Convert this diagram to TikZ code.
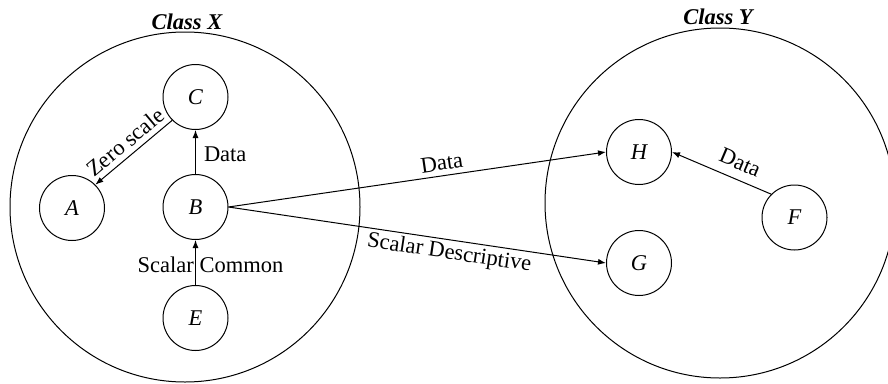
\documentclass[tikz,border=0pt]{standalone}
\usepackage{fontspec}
\setmainfont{Liberation Serif}
\usetikzlibrary{arrows.meta}
\begin{document}
\begin{tikzpicture}[x=1pt,y=-1pt,
  every node/.style={font=\fontsize{22.5}{27}\selectfont},
  cls/.style={circle,draw,line width=1pt,minimum size=350pt,inner sep=0pt},
  vert/.style={circle,draw,line width=1pt,minimum size=65pt,inner sep=0pt,font=\fontsize{22.5}{27}\selectfont\itshape},
  conn/.style={line width=1pt,-{Latex[length=8pt,width=6pt]}},
  ttl/.style={font=\fontsize{22.5}{27}\selectfont\bfseries\itshape}]
\useasboundingbox (0,0) rectangle (888,383);
\node[cls] (X) at (185,207) {};
\node[cls] (Y) at (720,203) {};
\node[ttl] (tx) at (187,22) {Class X};
\node[ttl] (ty) at (718,17) {Class Y};
\node[vert] (C) at (195.5,97) {C};
\node[vert] (A) at (72,208) {A};
\node[vert] (B) at (195.5,207) {B};
\node[vert] (E) at (195.5,318) {E};
\node[vert] (H) at (639,152) {H};
\node[vert] (G) at (639,263) {G};
\node[vert] (F) at (794.5,217.5) {F};
\draw[conn] (C.south west) -- node[sloped,above,inner sep=5pt] {Zero scale} (A.north east);
\draw[conn] (B.north) -- node[right,inner sep=8pt,yshift=-2pt] {Data} (C.south);
\draw[conn] (E.north) -- node[xshift=15pt,yshift=-2.5pt] {Scalar Common} (B.south);
\draw[conn] (B.east) -- node[pos=0.57,sloped,above,inner sep=5pt] {Data} (H.west);
\draw[conn] (B.east) -- node[pos=0.59,sloped,below,inner sep=3pt] {Scalar Descriptive} (G.west);
\draw[conn] (F.north west) -- node[pos=0.38,sloped,above,inner sep=9pt] {Data} (H.east);
\end{tikzpicture}
\end{document}
